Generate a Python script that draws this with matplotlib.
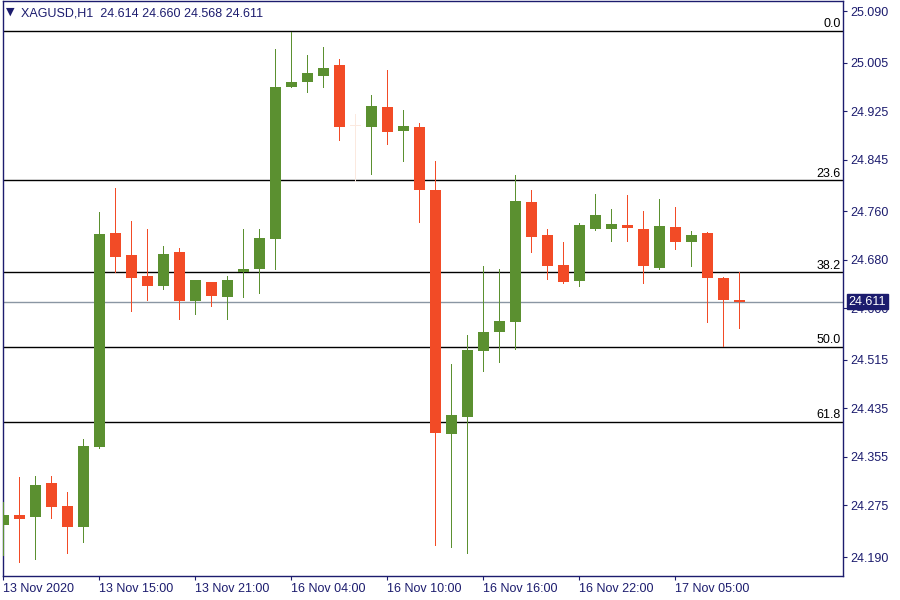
import numpy as np
import matplotlib
matplotlib.use("Agg")
import matplotlib.pyplot as plt
import matplotlib.transforms as mtransforms

# XAGUSD H1 candles
opens = [24.242, 24.259, 24.256, 24.312, 24.274, 24.240, 24.372, 24.724, 24.688, 24.653,
         24.637, 24.693, 24.612, 24.643, 24.619, 24.660, 24.665, 24.715, 24.964, 24.973,
         24.983, 25.001, 24.900, 24.898, 24.932, 24.893, 24.899, 24.795, 24.393, 24.420,
         24.530, 24.561, 24.578, 24.775, 24.721, 24.671, 24.645, 24.731, 24.730, 24.737,
         24.731, 24.666, 24.734, 24.710, 24.724, 24.650, 24.614]
highs = [24.280, 24.322, 24.324, 24.324, 24.297, 24.385, 24.759, 24.798, 24.744, 24.731,
         24.703, 24.699, 24.647, 24.643, 24.653, 24.731, 24.731, 25.027, 25.055, 25.017,
         25.031, 25.011, 24.920, 24.952, 24.993, 24.927, 24.905, 24.843, 24.508, 24.556,
         24.670, 24.665, 24.820, 24.795, 24.731, 24.709, 24.741, 24.788, 24.764, 24.787,
         24.760, 24.780, 24.767, 24.727, 24.726, 24.652, 24.660]
lows = [24.193, 24.181, 24.187, 24.255, 24.197, 24.215, 24.370, 24.659, 24.596, 24.614,
        24.632, 24.583, 24.591, 24.603, 24.583, 24.619, 24.626, 24.664, 24.964, 24.957,
        24.965, 24.878, 24.810, 24.822, 24.870, 24.843, 24.743, 24.209, 24.207, 24.197,
        24.497, 24.512, 24.533, 24.692, 24.649, 24.642, 24.637, 24.729, 24.711, 24.711,
        24.641, 24.664, 24.698, 24.669, 24.578, 24.537, 24.568]
closes = [24.259, 24.253, 24.309, 24.273, 24.240, 24.373, 24.722, 24.685, 24.650, 24.636,
          24.690, 24.612, 24.647, 24.621, 24.647, 24.665, 24.716, 24.964, 24.973, 24.988,
          24.996, 24.898, 24.900, 24.933, 24.891, 24.900, 24.795, 24.395, 24.424, 24.531,
          24.561, 24.579, 24.777, 24.718, 24.669, 24.644, 24.737, 24.754, 24.739, 24.733,
          24.669, 24.736, 24.710, 24.721, 24.650, 24.614, 24.611]

time_labels = ["13 Nov 2020", "13 Nov 15:00", "13 Nov 21:00", "16 Nov 04:00",
               "16 Nov 10:00", "16 Nov 16:00", "16 Nov 22:00", "17 Nov 05:00"]
time_label_bars = [0, 6, 12, 18, 24, 30, 36, 42]

price_ticks = [25.090, 25.005, 24.925, 24.845, 24.760, 24.680, 24.600,
               24.515, 24.435, 24.355, 24.275, 24.190]

fib_labels = ["0.0", "23.6", "38.2", "50.0", "61.8"]
fib_prices = [25.057, 24.811, 24.659, 24.536, 24.413]

last_price = 24.611

UP = "#5b9030"
DOWN = "#f24b26"
DOJI = "#fbe9df"
NAVY = "#1c1c6e"

plt.rcParams['font.family'] = ['Liberation Sans', 'DejaVu Sans']

fig = plt.figure(figsize=(9, 6), dpi=100)
ax = fig.add_axes([3 / 900, 24 / 600, 840 / 900, 575 / 600])

x = np.arange(len(opens))
o = np.array(opens)
c = np.array(closes)
colors = [UP if cc > oo else DOWN if cc < oo else DOJI for oo, cc in zip(opens, closes)]

ax.vlines(x, lows, highs, colors=colors, linewidth=0.72, zorder=3, antialiased=False)
bottoms = np.minimum(o, c)
heights = np.maximum(np.abs(c - o), 0.0025)
ax.bar(x, heights, bottom=bottoms, width=0.68, color=colors, linewidth=0, zorder=4)

# fibonacci levels
trans = mtransforms.blended_transform_factory(ax.transAxes, ax.transData)
for lab, p in zip(fib_labels, fib_prices):
    ax.axhline(p, color="black", linewidth=1.0, zorder=2)
    ax.text(0.9975, p + 0.001, lab, transform=trans,
            ha="right", va="bottom", fontsize=9, color="black")

# current price line
ax.axhline(last_price, color="#8a96a3", linewidth=1.0, zorder=2)

ax.set_xlim(-0.02, 52.48)
ax.set_ylim(24.1587, 25.1065)

ax.yaxis.tick_right()
ax.set_yticks(price_ticks)
ax.set_yticklabels([f"{t:.3f}" for t in price_ticks])
ax.set_xticks(time_label_bars)
ax.set_xticklabels(time_labels, ha="left")
ax.tick_params(axis="both", direction="out", length=3, width=0.8, colors=NAVY,
               labelsize=9, labelcolor=NAVY)
ax.tick_params(axis="y", pad=2)
ax.tick_params(axis="x", pad=2)

for s in ax.spines.values():
    s.set_color(NAVY)
    s.set_linewidth(1.0)

# last price tag
ax.text(1.0065, last_price, "24.611", transform=trans,
        ha="left", va="center", fontsize=9, color="white", clip_on=False, zorder=10,
        bbox=dict(boxstyle="square,pad=0.15", facecolor=NAVY, edgecolor=NAVY))

# header
fig.text(6 / 900, 1 - 12 / 600, "\u25bc", fontsize=8, color=NAVY, va="center", ha="left",
         family="DejaVu Sans")
fig.text(21 / 900, 1 - 13 / 600, "XAGUSD,H1  24.614 24.660 24.568 24.611",
         fontsize=9, color=NAVY, va="center", ha="left")

fig.savefig("out.png", dpi=100, facecolor="white")
